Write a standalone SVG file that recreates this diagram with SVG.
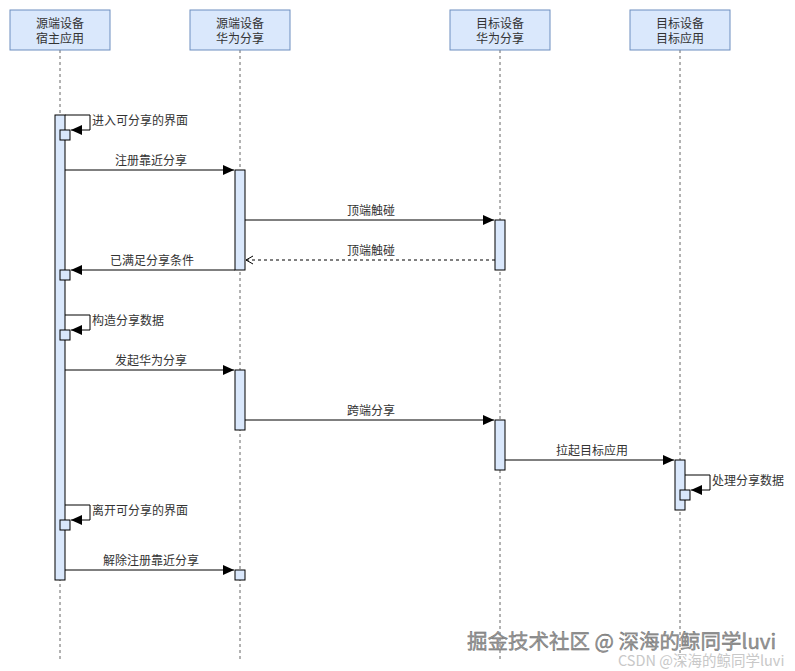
<svg xmlns="http://www.w3.org/2000/svg" width="795" height="671" viewBox="0 0 795 671">
<defs>
<style>
.hdr{fill:#dae8fc;stroke:#6c8ebf;stroke-width:1}
.life{stroke:#666;stroke-width:1;stroke-dasharray:3 3;fill:none}
.act{fill:#dae8fc;stroke:#000;stroke-width:1}
.msg{stroke:#000;stroke-width:1;fill:none}
.ret{stroke:#000;stroke-width:1;fill:none;stroke-dasharray:3 3}
text{font-family:"Noto Sans CJK SC","Microsoft YaHei",sans-serif;font-size:12px;fill:#333}
.h{text-anchor:middle}
.c{text-anchor:middle}
</style>
<marker id="ah" markerWidth="12" markerHeight="10" refX="11" refY="5" orient="auto" markerUnits="userSpaceOnUse">
<path d="M0,0 L11,5 L0,10 Z" fill="#000"/>
</marker>
<marker id="oa" markerWidth="10" markerHeight="10" refX="7" refY="5" orient="auto" markerUnits="userSpaceOnUse">
<path d="M0,1 L7,5 L0,9" fill="none" stroke="#000" stroke-width="1"/>
</marker>
</defs>
<rect width="795" height="671" fill="#fff"/>
<g id="lifelines">
<line class="life" x1="60" y1="50" x2="60" y2="660"/>
<line class="life" x1="240" y1="50" x2="240" y2="660"/>
<line class="life" x1="500" y1="50" x2="500" y2="660"/>
<line class="life" x1="680" y1="50" x2="680" y2="660"/>
</g>
<g id="node-src-app">
<rect class="hdr" x="10" y="10" width="100" height="40"/>
<text class="h" x="60" y="28">源端设备</text>
<text class="h" x="60" y="43">宿主应用</text>
</g>
<g id="node-src-share">
<rect class="hdr" x="190" y="10" width="100" height="40"/>
<text class="h" x="240" y="28">源端设备</text>
<text class="h" x="240" y="43">华为分享</text>
</g>
<g id="node-dst-share">
<rect class="hdr" x="450" y="10" width="100" height="40"/>
<text class="h" x="500" y="28">目标设备</text>
<text class="h" x="500" y="43">华为分享</text>
</g>
<g id="node-dst-app">
<rect class="hdr" x="630" y="10" width="100" height="40"/>
<text class="h" x="680" y="28">目标设备</text>
<text class="h" x="680" y="43">目标应用</text>
</g>
<g id="activations">
<rect class="act" x="55" y="115" width="10" height="465"/>
<rect class="act" x="235" y="170" width="10" height="100"/>
<rect class="act" x="495" y="220" width="10" height="50"/>
<rect class="act" x="235" y="370" width="10" height="60"/>
<rect class="act" x="495" y="420" width="10" height="50"/>
<rect class="act" x="675" y="460" width="10" height="50"/>
<rect class="act" x="235" y="570" width="10" height="10"/>
<rect class="act" x="60" y="130" width="10" height="10"/>
<rect class="act" x="60" y="270" width="10" height="10"/>
<rect class="act" x="60" y="330" width="10" height="10"/>
<rect class="act" x="60" y="520" width="10" height="10"/>
<rect class="act" x="680" y="490" width="10" height="10"/>
</g>
<g id="connectors">
<path class="msg" d="M65,115 H90 V130 H71" marker-end="url(#ah)"/>
<text x="92" y="125">进入可分享的界面</text>
<line class="msg" x1="65" y1="170" x2="234" y2="170" marker-end="url(#ah)"/>
<text class="c" x="151" y="165">注册靠近分享</text>
<line class="msg" x1="245" y1="220" x2="494" y2="220" marker-end="url(#ah)"/>
<text class="c" x="371" y="215">顶端触碰</text>
<line class="ret" x1="495" y1="260" x2="246" y2="260" marker-end="url(#oa)"/>
<text class="c" x="371" y="255">顶端触碰</text>
<line class="msg" x1="235" y1="270" x2="71" y2="270" marker-end="url(#ah)"/>
<text class="c" x="152" y="265">已满足分享条件</text>
<path class="msg" d="M65,315 H90 V330 H71" marker-end="url(#ah)"/>
<text x="92" y="325">构造分享数据</text>
<line class="msg" x1="65" y1="370" x2="234" y2="370" marker-end="url(#ah)"/>
<text class="c" x="151" y="365">发起华为分享</text>
<line class="msg" x1="245" y1="420" x2="494" y2="420" marker-end="url(#ah)"/>
<text class="c" x="371" y="415">跨端分享</text>
<line class="msg" x1="505" y1="460" x2="674" y2="460" marker-end="url(#ah)"/>
<text class="c" x="592" y="455">拉起目标应用</text>
<path class="msg" d="M685,475 H710 V490 H691" marker-end="url(#ah)"/>
<text x="712" y="485">处理分享数据</text>
<path class="msg" d="M65,505 H90 V520 H71" marker-end="url(#ah)"/>
<text x="92" y="515">离开可分享的界面</text>
<line class="msg" x1="65" y1="570" x2="234" y2="570" marker-end="url(#ah)"/>
<text class="c" x="151" y="565">解除注册靠近分享</text>
</g>
<g id="watermark">
<text x="467" y="649" style="font-size:20.5px;fill:#999;stroke:#666;stroke-width:0.4">掘金技术社区 @ 深海的鲸同学luvi</text>
<text x="618" y="666" style="font-size:14.5px;fill:#c8c8c8">CSDN @深海的鲸同学luvi</text>
</g>
</svg>
